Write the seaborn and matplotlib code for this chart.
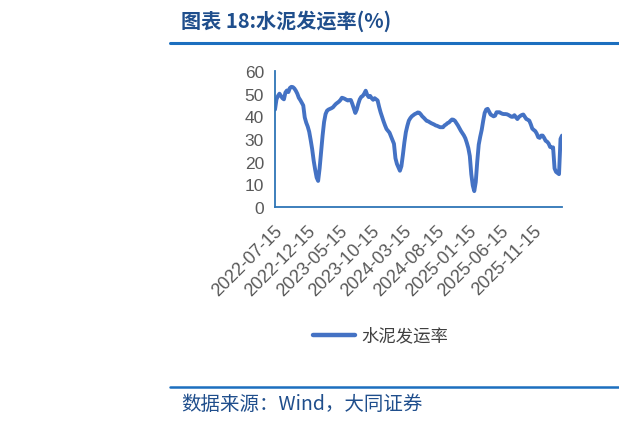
import matplotlib
matplotlib.use('Agg')
import matplotlib.pyplot as plt
import matplotlib.transforms as mtransforms
from matplotlib.lines import Line2D
import pandas as pd
import seaborn as sns

# 水泥发运率(%)，周度，起始 2022-07-15
START = '2022-07-15'
VALUES = [
    43.0, 47.5, 49.0, 50.0, 49.0, 48.0, 47.5, 50.5, 51.4, 50.7,
    52.5, 53.0, 52.9, 52.3, 51.3, 50.0, 48.2, 47.2, 46.0, 44.8,
    39.5, 37.2, 35.5, 33.2, 29.5, 25.5, 20.5, 16.5, 13.0, 11.5,
    17.0, 24.5, 31.5, 37.5, 41.0, 42.5, 43.0, 43.3, 43.6, 44.0,
    44.8, 45.5, 46.0, 46.5, 47.2, 48.2, 48.0, 47.7, 47.3, 47.0,
    47.2, 47.2, 45.5, 43.5, 41.5, 43.0, 45.5, 47.5, 48.6, 49.0,
    50.0, 51.3, 49.5, 48.5, 49.0, 48.0, 47.3, 48.0, 47.5, 47.0,
    44.2, 41.8, 39.8, 37.8, 36.0, 34.4, 33.6, 32.8, 31.2, 29.5,
    27.9, 21.5, 19.0, 17.5, 16.0, 18.0, 23.0, 28.5, 33.0, 35.8,
    38.1, 39.2, 40.0, 40.5, 41.0, 41.3, 41.7, 41.6, 40.9, 40.0,
    39.4, 38.7, 38.0, 37.8, 37.4, 37.0, 36.7, 36.4, 36.0, 35.8,
    35.5, 35.2, 35.2, 35.2, 36.0, 36.4, 37.0, 37.3, 38.0, 38.6,
    38.5, 38.0, 37.0, 36.0, 34.8, 33.6, 32.6, 31.6, 30.3, 28.3,
    26.0, 22.5, 14.5, 9.5, 7.0, 11.0, 20.0, 27.5, 31.0, 34.0,
    38.0, 41.5, 43.0, 43.3, 42.0, 40.8, 40.4, 40.0, 40.3, 41.8,
    41.8, 41.8, 41.4, 41.1, 41.0, 41.0, 40.9, 40.6, 40.2, 39.8,
    39.8, 40.5, 39.6, 38.8, 39.7, 40.2, 40.6, 40.8, 39.8, 38.8,
    38.5, 38.1, 36.5, 34.6, 34.0, 33.5, 32.4, 30.8, 30.5, 31.5,
    31.5, 30.5, 29.2, 28.8, 28.0, 26.5, 26.3, 26.3, 17.0, 15.5,
    15.0, 14.5, 30.0, 31.5,
]
TICK_LABELS = ['2022-07-15', '2022-12-15', '2023-05-15', '2023-10-15', '2024-03-15',
               '2024-08-15', '2025-01-15', '2025-06-15', '2025-11-15']
Y_TICKS = [0, 10, 20, 30, 40, 50, 60]
SERIES = '水泥发运率'
TITLE = '图表 18:水泥发运率(%)'
SOURCE = '数据来源：Wind，大同证券'

LINE_COLOR = '#4472C4'
AXIS_COLOR = '#2E75B6'
NAVY = '#1F4E8C'
RULE_COLOR = '#1C6FBF'
CJK = ['Noto Sans CJK SC', 'DejaVu Sans']

sns.set_theme(style='white')
plt.rcParams['font.family'] = CJK

df = pd.DataFrame({
    '日期': pd.date_range(START, periods=len(VALUES), freq='7D'),
    SERIES: VALUES,
})

W, H = 619, 427
fig = plt.figure(figsize=(W / 100, H / 100), dpi=100)
ax = fig.add_axes([275 / W, 1 - 208 / H, (562 - 275) / W, (208 - 72) / H])

sns.lineplot(data=df, x='日期', y=SERIES, ax=ax, color=LINE_COLOR, lw=2.8, legend=False)

ax.set_xlim(df['日期'].iloc[0], df['日期'].iloc[-1])
ax.set_ylim(0, 60)
ax.set_xlabel('')
ax.set_ylabel('')
ax.set_yticks(Y_TICKS)
ax.set_yticklabels([str(v) for v in Y_TICKS], family='Liberation Sans', fontsize=12.5, color='#595959')
ax.set_xticks(pd.to_datetime(TICK_LABELS))
ax.set_xticklabels(TICK_LABELS, family='Liberation Sans', fontsize=13, color='#595959',
                   rotation=45, ha='right', va='center', rotation_mode='anchor')

for side in ['top', 'right']:
    ax.spines[side].set_visible(False)
for side in ['left', 'bottom']:
    ax.spines[side].set_color(AXIS_COLOR)
    ax.spines[side].set_linewidth(1.3)
ax.tick_params(axis='both', direction='in', length=5, width=1.2, color=AXIS_COLOR)
ax.tick_params(axis='y', pad=8)
ax.tick_params(axis='x', pad=15)
shift = mtransforms.ScaledTranslation(5 / 100, 0, fig.dpi_scale_trans)
for lab in ax.get_xticklabels():
    lab.set_transform(lab.get_transform() + shift)

# 图例
fig.add_artist(Line2D([313 / W, 355 / W], [1 - 336 / H] * 2, color=LINE_COLOR, lw=3.2,
                      solid_capstyle='round'))
fig.text(361 / W, 1 - 336 / H, SERIES, fontsize=12.5, color='#404040', va='center', ha='left')

# 标题、分隔线、来源
fig.text(181 / W, 1 - 21 / H, TITLE, fontsize=14.5, fontweight='bold', color=NAVY, va='center', ha='left')
fig.add_artist(Line2D([170 / W, 1], [1 - 44 / H] * 2, color=RULE_COLOR, lw=2.2))
fig.add_artist(Line2D([170 / W, 1], [1 - 388 / H] * 2, color=RULE_COLOR, lw=1.8))
fig.text(181 / W, 1 - 405 / H, SOURCE, fontsize=14, color=NAVY, va='center', ha='left')

fig.savefig('out.png', dpi=100)
